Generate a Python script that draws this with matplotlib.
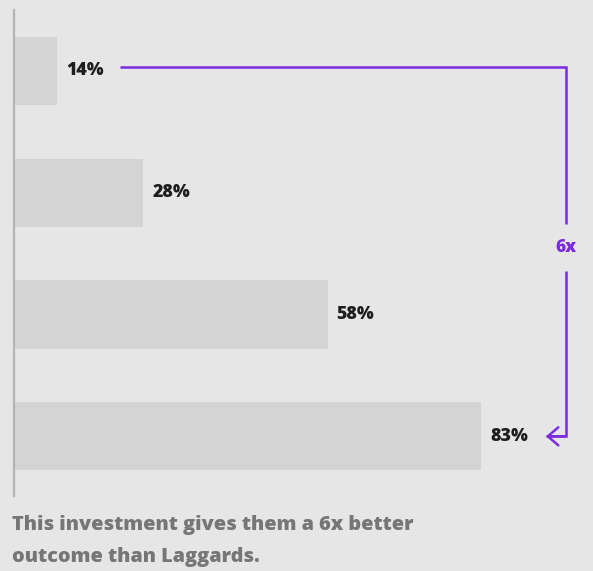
import matplotlib.pyplot as plt
from matplotlib.lines import Line2D

# Share of respondents per group (top to bottom)
groups = ["Laggards", "Group 2", "Group 3", "Leaders"]
shares = [14, 28, 58, 83]
labels = [f"{v}%" for v in shares]
ratio_label = "6x"
caption = ["This investment gives them a 6x better",
           "outcome than Laggards."]

BG = "#e6e6e6"
BAR = "#d4d4d4"
PURPLE = "#7b2be0"
W, H = 593, 571

plt.rcParams["font.family"] = ["Open Sans", "DejaVu Sans"]

fig = plt.figure(figsize=(W / 100, H / 100), dpi=100, facecolor=BG)
ax = fig.add_axes([14 / W, 75 / H, 579 / W, 486 / H], facecolor=BG)

ypos = list(range(len(shares)))
ax.barh(ypos, shares, height=0.56, color=BAR, left=0)
ax.set_xlim(7, 7 + 579 / 6.15)
ax.set_ylim(3.49, -0.5)

for s in ["top", "right", "bottom"]:
    ax.spines[s].set_visible(False)
ax.spines["left"].set_color("#b5b5b5")
ax.spines["left"].set_linewidth(1.6)
ax.set_xticks([])
ax.set_yticks([])

for y, v, lab in zip(ypos, shares, labels):
    ax.annotate(lab, (v, y), xytext=(6.5, 0), textcoords="offset points",
                ha="left", va="center", fontsize=12.8, fontweight="heavy",
                color="#1e1e1e")

# bracket from the first bar to the last one
bx = 96.8
y_top, y_bot = ypos[0] - 0.03, ypos[-1]
x_start = shares[0] + 10.2
x_end = shares[-1] + 10.5
lw = 1.8
ax.add_line(Line2D([x_start, bx, bx], [y_top, y_top, 1.26], color=PURPLE, lw=lw,
                   solid_capstyle="butt", solid_joinstyle="miter"))
ax.add_line(Line2D([bx, bx, x_end], [1.64, y_bot, y_bot], color=PURPLE, lw=lw,
                   solid_capstyle="butt", solid_joinstyle="miter"))
ax.annotate("", xy=(x_end, y_bot), xytext=(x_end + 3, y_bot),
            arrowprops=dict(arrowstyle="->,head_length=0.75,head_width=0.65",
                            color=PURPLE, lw=lw, shrinkA=0, shrinkB=0))
ax.text(bx, 1.45, ratio_label, ha="center", va="center", fontsize=12.5,
        fontweight="heavy", color=PURPLE)

for i, line in enumerate(caption):
    fig.text(12 / W, 1 - (525 + 32 * i) / H, line, ha="left", va="center",
             fontsize=14.3, fontweight="heavy", color="#767676")

fig.savefig("out.png", dpi=100, facecolor=BG)
